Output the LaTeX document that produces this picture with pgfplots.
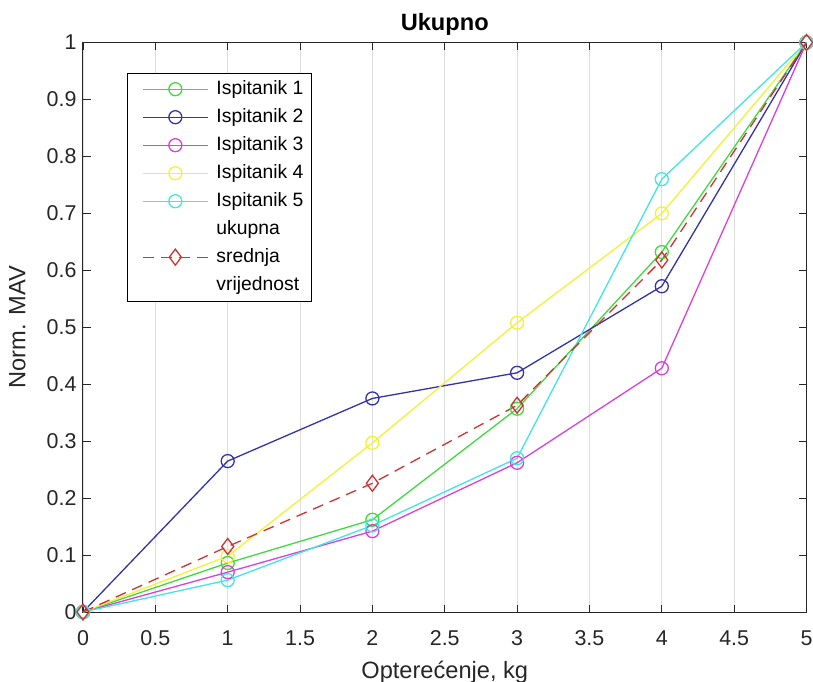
\documentclass[border=0pt]{standalone}
\usepackage{pgfplots}
\pgfplotsset{compat=1.18}
\usepackage{fontspec}
\setmainfont{Liberation Sans}

\definecolor{cGreen}{rgb}{0.25,0.85,0.25}
\definecolor{cBlue}{rgb}{0.2,0.2,0.65}
\definecolor{cMagenta}{rgb}{0.85,0.25,0.85}
\definecolor{cYellow}{rgb}{0.95,0.95,0.2}
\definecolor{cCyan}{rgb}{0.25,0.9,0.9}
\definecolor{cRed}{rgb}{0.8,0.2,0.2}
\definecolor{axgray}{HTML}{262626}
\definecolor{gridgray}{HTML}{DEDEDE}

\begin{document}
\begin{tikzpicture}
\begin{axis}[
    scale only axis,
    width=723.5bp, height=569.5bp,
    xmin=0, xmax=5, ymin=0, ymax=1,
    xtick={0,0.5,1,1.5,2,2.5,3,3.5,4,4.5,5},
    ytick={0,0.1,0.2,0.3,0.4,0.5,0.6,0.7,0.8,0.9,1},
    /pgf/number format/assume math mode=true,
    tick align=inside,
    major tick length=7.5bp,
    tick style={color=axgray, line width=0.8bp},
    axis line style={color=axgray, line width=1bp},
    xmajorgrids,
    major grid style={color=gridgray, line width=0.8bp},
    ticklabel style={font=\fontsize{21.5}{24}\selectfont, text=axgray},
    xticklabel style={yshift=-15bp},
    yticklabel style={xshift=-3bp},
    xlabel={Opterećenje, kg},
    ylabel={Norm. MAV},
    label style={font=\fontsize{23.7}{26}\selectfont, text=axgray},
    xlabel style={at={(axis description cs:0.5,-0.1160)}, anchor=base},
    ylabel style={at={(axis description cs:-0.0795,0.5)}, anchor=base},
    title={\bfseries Ukupno},
    title style={font=\fontsize{23.7}{26}\selectfont, at={(axis description cs:0.5,1.0114)}, anchor=base},
    clip=false,
    legend cell align=left,
    legend image code/.code={
        \draw[mark repeat=2, mark phase=2, #1, line width=1.3bp] plot coordinates {(0bp,0bp) (32.5bp,0bp) (65bp,0bp)};
        \path (-7bp,0bp);
    },
    legend style={
        at={(axis description cs:0,1)}, anchor=north west,
        xshift=44bp, yshift=-30.5bp,
        inner xsep=8bp, inner ysep=2bp,
        column sep=8bp, row sep=0pt,
        nodes={inner sep=0pt, text height=19.6bp, text depth=8.4bp},
        font=\fontsize{19.4}{28}\selectfont, text=black,
    },
    every axis plot/.append style={line width=1.3bp, mark=o, mark size=6.5bp},
]
\addplot[cGreen] coordinates {(0,0) (1,0.086) (2,0.162) (3,0.357) (4,0.632) (5,1)};
\addlegendentry{Ispitanik 1}
\addplot[cBlue] coordinates {(0,0) (1,0.265) (2,0.375) (3,0.420) (4,0.572) (5,1)};
\addlegendentry{Ispitanik 2}
\addplot[cMagenta] coordinates {(0,0) (1,0.070) (2,0.142) (3,0.262) (4,0.428) (5,1)};
\addlegendentry{Ispitanik 3}
\addplot[cYellow] coordinates {(0,0) (1,0.098) (2,0.297) (3,0.508) (4,0.700) (5,1)};
\addlegendentry{Ispitanik 4}
\addplot[cCyan] coordinates {(0,0) (1,0.056) (2,0.152) (3,0.270) (4,0.760) (5,1)};
\addlegendentry{Ispitanik 5}
\addlegendimage{empty legend}
\addlegendentry{ukupna}
\addplot[cRed, dash pattern=on 11bp off 7bp, mark=diamond, mark size=8bp, mark options={solid}]
    coordinates {(0,0) (1,0.115) (2,0.226) (3,0.363) (4,0.618) (5,1)};
\addlegendentry{srednja}
\addlegendimage{empty legend}
\addlegendentry{vrijednost}
\end{axis}
\pgfresetboundingbox
\path[use as bounding box] ([xshift=-83bp,yshift=-70bp]current axis.south west)
    rectangle ([xshift=6.5bp,yshift=42.5bp]current axis.north east);
\end{tikzpicture}
\end{document}
